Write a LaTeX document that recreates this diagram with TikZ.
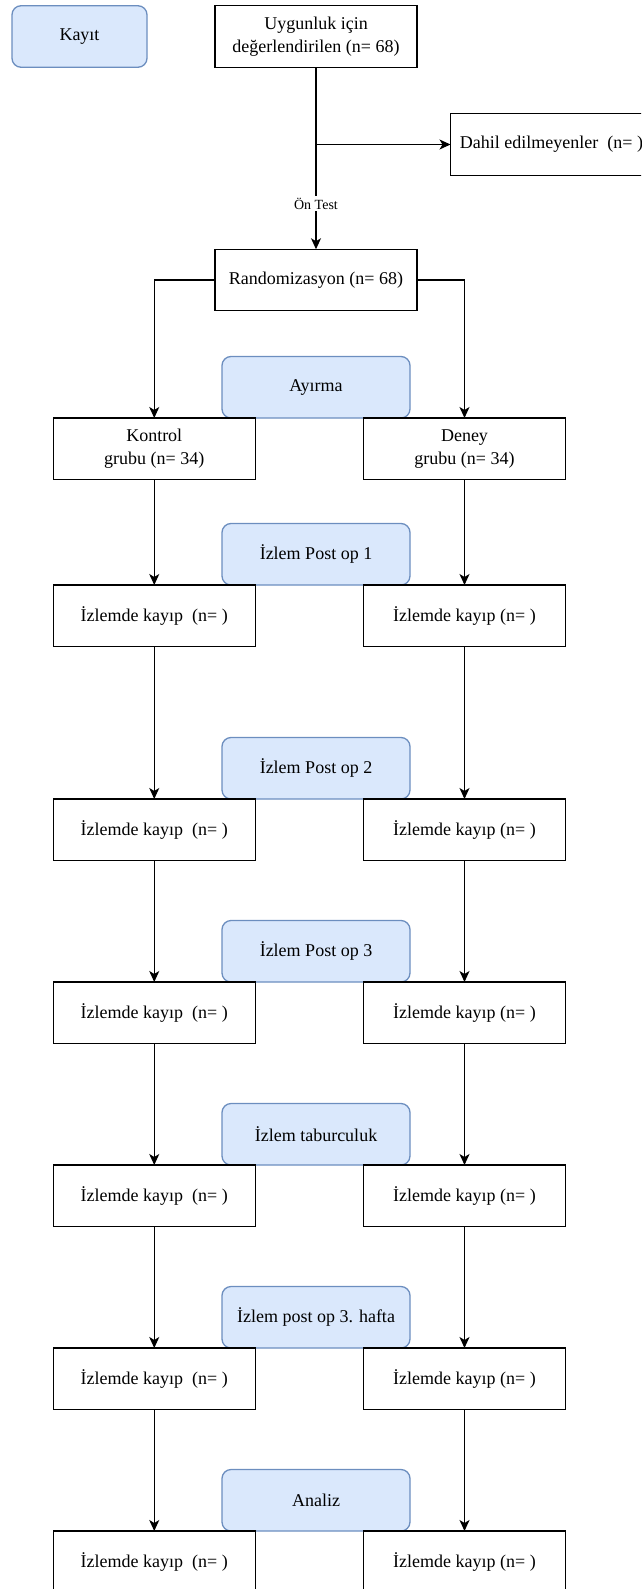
\documentclass[tikz,border=0pt]{standalone}
\usepackage{fontspec}
\setmainfont{Liberation Serif}
\usetikzlibrary{arrows.meta}

\definecolor{phasefill}{HTML}{DAE8FC}
\definecolor{phaseline}{HTML}{6C8EBF}

\tikzset{
    box/.style={draw, fill=white, line width=1.3pt, minimum width=202pt, minimum height=61.5pt,
        inner sep=0pt, outer sep=0pt, align=center, font=\fontsize{18}{23}\selectfont},
    phase/.style={draw=phaseline, fill=phasefill, rounded corners=9pt, line width=1.3pt,
        minimum width=188pt, minimum height=61.5pt, inner sep=0pt, outer sep=0pt,
        font=\fontsize{18}{23}\selectfont},
    arr/.style={-{Stealth[length=11pt,width=10pt,inset=3pt]}, line width=1.3pt},
    testlbl/.style={fill=white, inner sep=2pt, font=\fontsize{14}{16}\selectfont}
}

\begin{document}
\begin{tikzpicture}[x=1pt, y=-1pt]
    \path[use as bounding box, clip] (0,0) rectangle (641,1589);

    \node[phase, minimum width=135pt] (kayit) at (79.5,36.5) {Kayıt};
    \node[box] (uyg) at (316,36.5) {Uygunluk için\\değerlendirilen (n= 68)};
    \node[box] (dahil) at (551.5,144.5) {Dahil edilmeyenler\ \ (n= )};
    \node[box] (rand) at (316,280) {Randomizasyon (n= 68)};

    \draw[arr] (uyg) -- node[testlbl, pos=0.75]{Ön Test} (rand);   % on test
    \draw[arr] (uyg.south |- dahil) -- (dahil);                    % excluded

    \node[phase] (p0) at (316,387.25) {Ayırma};
    \node[box] (l0) at (154.25,448.75) {Kontrol\\grubu (n= 34)};
    \node[box] (r0) at (464.5,448.75) {Deney\\grubu (n= 34)};
    \draw[arr] (rand.west) -| (l0);
    \draw[arr] (rand.east) -| (r0);

    % follow-up rows
    \foreach \i/\yp/\yb/\txt [remember=\i as \j (initially 0)] in
        {1/554.25/615.75/{İzlem Post op 1},
         2/768.25/829.75/{İzlem Post op 2},
         3/951.25/1012.75/{İzlem Post op 3},
         4/1134.25/1195.75/{İzlem taburculuk},
         5/1317.25/1378.75/{İzlem post op 3. hafta},
         6/1500.25/1561.75/{Analiz}}
    {
        \node[phase] (p\i) at (316,\yp) {\txt};
        \node[box] (l\i) at (154.25,\yb) {İzlemde kayıp\ \ (n= )};
        \node[box] (r\i) at (464.5,\yb) {İzlemde kayıp (n= )};
        \draw[arr] (l\j) -- (l\i);
        \draw[arr] (r\j) -- (r\i);
    }
\end{tikzpicture}
\end{document}
